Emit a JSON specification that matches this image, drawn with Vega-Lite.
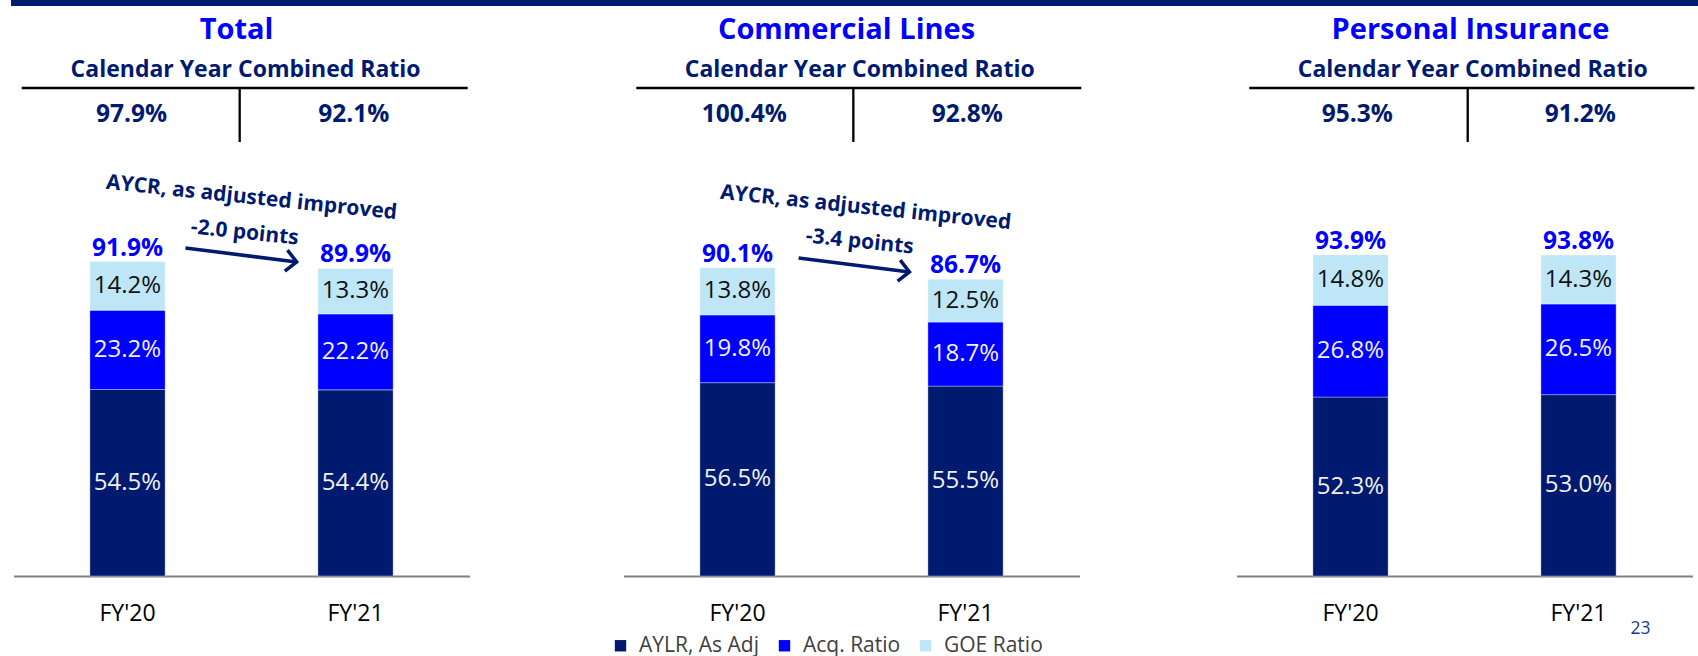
{
  "$schema": "https://vega.github.io/schema/vega-lite/v6.json",
  "padding": {"left": 11, "top": 0, "right": 0, "bottom": 0},
  "background": "white",
  "config": {"font": "Open Sans", "view": {"stroke": null}},
  "spacing": 2,
  "center": true,
  "datasets": {
    "rows": [
      {"kind": "bar", "panel": "Total", "year": "FY'20", "comp": "AYLR, As Adj", "ord": 1, "value": 0.545},
      {"kind": "bar", "panel": "Total", "year": "FY'20", "comp": "Acq. Ratio", "ord": 2, "value": 0.232},
      {"kind": "bar", "panel": "Total", "year": "FY'20", "comp": "GOE Ratio", "ord": 3, "value": 0.142},
      {"kind": "bar", "panel": "Total", "year": "FY'21", "comp": "AYLR, As Adj", "ord": 1, "value": 0.544},
      {"kind": "bar", "panel": "Total", "year": "FY'21", "comp": "Acq. Ratio", "ord": 2, "value": 0.222},
      {"kind": "bar", "panel": "Total", "year": "FY'21", "comp": "GOE Ratio", "ord": 3, "value": 0.133},
      {"kind": "bar", "panel": "Commercial Lines", "year": "FY'20", "comp": "AYLR, As Adj", "ord": 1, "value": 0.565},
      {"kind": "bar", "panel": "Commercial Lines", "year": "FY'20", "comp": "Acq. Ratio", "ord": 2, "value": 0.198},
      {"kind": "bar", "panel": "Commercial Lines", "year": "FY'20", "comp": "GOE Ratio", "ord": 3, "value": 0.138},
      {"kind": "bar", "panel": "Commercial Lines", "year": "FY'21", "comp": "AYLR, As Adj", "ord": 1, "value": 0.555},
      {"kind": "bar", "panel": "Commercial Lines", "year": "FY'21", "comp": "Acq. Ratio", "ord": 2, "value": 0.187},
      {"kind": "bar", "panel": "Commercial Lines", "year": "FY'21", "comp": "GOE Ratio", "ord": 3, "value": 0.125},
      {"kind": "bar", "panel": "Personal Insurance", "year": "FY'20", "comp": "AYLR, As Adj", "ord": 1, "value": 0.523},
      {"kind": "bar", "panel": "Personal Insurance", "year": "FY'20", "comp": "Acq. Ratio", "ord": 2, "value": 0.268},
      {"kind": "bar", "panel": "Personal Insurance", "year": "FY'20", "comp": "GOE Ratio", "ord": 3, "value": 0.148},
      {"kind": "bar", "panel": "Personal Insurance", "year": "FY'21", "comp": "AYLR, As Adj", "ord": 1, "value": 0.530},
      {"kind": "bar", "panel": "Personal Insurance", "year": "FY'21", "comp": "Acq. Ratio", "ord": 2, "value": 0.265},
      {"kind": "bar", "panel": "Personal Insurance", "year": "FY'21", "comp": "GOE Ratio", "ord": 3, "value": 0.143},

      {"kind": "title", "panel": "Total", "text": "Total", "hx": 0.489, "hy": 1.568},
      {"kind": "title", "panel": "Commercial Lines", "text": "Commercial Lines", "hx": 0.489, "hy": 1.568},
      {"kind": "title", "panel": "Personal Insurance", "text": "Personal Insurance", "hx": 0.513, "hy": 1.568},

      {"kind": "sub", "panel": "Total", "text": "Calendar Year Combined Ratio", "hx": 0.509, "hy": 1.4575},
      {"kind": "sub", "panel": "Commercial Lines", "text": "Calendar Year Combined Ratio", "hx": 0.518, "hy": 1.4575},
      {"kind": "sub", "panel": "Personal Insurance", "text": "Calendar Year Combined Ratio", "hx": 0.518, "hy": 1.4575},

      {"kind": "cy", "panel": "Total", "cy": 0.979, "hx": 0.259, "hy": 1.326},
      {"kind": "cy", "panel": "Total", "cy": 0.921, "hx": 0.746, "hy": 1.326},
      {"kind": "cy", "panel": "Commercial Lines", "cy": 1.004, "hx": 0.265, "hy": 1.326},
      {"kind": "cy", "panel": "Commercial Lines", "cy": 0.928, "hx": 0.754, "hy": 1.326},
      {"kind": "cy", "panel": "Personal Insurance", "cy": 0.953, "hx": 0.265, "hy": 1.326},
      {"kind": "cy", "panel": "Personal Insurance", "cy": 0.912, "hx": 0.754, "hy": 1.326},

      {"kind": "tline", "panel": "Total", "hx": 0.018, "hx2": 0.996, "hy": 1.4262, "hy2": 1.4262},
      {"kind": "tline", "panel": "Total", "hx": 0.496, "hx2": 0.496, "hy": 1.4262, "hy2": 1.2684},
      {"kind": "tline", "panel": "Commercial Lines", "hx": 0.028, "hx2": 1.004, "hy": 1.4262, "hy2": 1.4262},
      {"kind": "tline", "panel": "Commercial Lines", "hx": 0.504, "hx2": 0.504, "hy": 1.4262, "hy2": 1.2684},
      {"kind": "tline", "panel": "Personal Insurance", "hx": 0.028, "hx2": 1.004, "hy": 1.4262, "hy2": 1.4262},
      {"kind": "tline", "panel": "Personal Insurance", "hx": 0.507, "hx2": 0.507, "hy": 1.4262, "hy2": 1.2684},

      {"kind": "ann", "panel": "Total", "text": "AYCR, as adjusted improved", "hx": 0.522, "hy": 1.1047},
      {"kind": "ann", "panel": "Total", "text": "-2.0 points", "hx": 0.507, "hy": 1.0024},
      {"kind": "ann", "panel": "Commercial Lines", "text": "AYCR, as adjusted improved", "hx": 0.531, "hy": 1.0755},
      {"kind": "ann", "panel": "Commercial Lines", "text": "-3.4 points", "hx": 0.518, "hy": 0.9761},

      {"kind": "arrow", "panel": "Total", "hx": 0.377, "hy": 0.9586, "hx2": 0.621, "hy2": 0.9177},
      {"kind": "arrow", "panel": "Commercial Lines", "hx": 0.384, "hy": 0.9294, "hx2": 0.627, "hy2": 0.8885},

      {"kind": "page", "panel": "Personal Insurance", "text": "23", "hx": 0.886, "hy": -0.155}
    ]
  },
  "vconcat": [
    {
      "width": 1687,
      "height": 6,
      "data": {"values": [{"band": "top"}]},
      "mark": {"type": "rect", "color": "#001a70"},
      "encoding": {}
    },
    {
      "spacing": 154,
      "hconcat": [
        {
          "width": 456, "height": 568,
          "data": {"name": "rows"},
          "transform": [{"filter": "datum.panel === 'Total'"}],
          "resolve": {"scale": {"x": "independent"}},
          "layer": [
            {"transform": [{"filter": "datum.kind === 'bar'"}],
             "mark": {"type": "bar", "stroke": "#ffffff", "strokeOpacity": 0.35, "strokeWidth": 1},
             "encoding": {
               "x": {"field": "year", "type": "nominal", "scale": {"paddingInner": 0.67, "paddingOuter": 0.335},
                     "axis": {"title": null, "labelAngle": 0, "labelFontSize": 23, "labelFont": "Open Sans", "labelColor": "#000000", "labelPadding": 26, "ticks": false, "domainColor": "#808080", "domainWidth": 2, "grid": false}},
               "y": {"field": "value", "type": "quantitative", "stack": "zero", "scale": {"domain": [0, 1.66], "nice": false}, "axis": null},
               "color": {"field": "comp", "type": "nominal",
                         "scale": {"domain": ["AYLR, As Adj", "Acq. Ratio", "GOE Ratio"], "range": ["#001a70", "#0000ff", "#bfe6f7"]},
                         "legend": {"title": null, "orient": "none", "direction": "horizontal", "legendX": 599, "legendY": 635,
                                    "labelFontSize": 21, "labelFont": "Open Sans", "labelColor": "#404040", "symbolType": "square", "symbolSize": 130,
                                    "symbolStrokeWidth": 0, "columnPadding": 14, "labelOffset": 8, "padding": 0}},
               "order": {"field": "ord", "type": "quantitative"}}},
            {"transform": [{"filter": "datum.kind === 'bar'"},
                           {"stack": "value", "groupby": ["panel", "year"], "sort": [{"field": "ord", "order": "ascending"}], "as": ["v0", "v1"]},
                           {"fold": ["v0", "v1"], "as": ["edge", "pos"]},
                           {"aggregate": [{"op": "mean", "field": "pos", "as": "mid"}, {"op": "max", "field": "value", "as": "val"}], "groupby": ["panel", "year", "comp"]}],
             "mark": {"type": "text", "fontSize": 24, "baseline": "middle", "align": "center"},
             "encoding": {
               "x": {"field": "year", "type": "nominal", "scale": {"paddingInner": 0.67, "paddingOuter": 0.335}, "axis": null},
               "y": {"field": "mid", "type": "quantitative"},
               "text": {"field": "val", "type": "quantitative", "format": ".1%"},
               "color": {"condition": {"test": "datum.comp === 'GOE Ratio'", "value": "#111111"}, "value": "#f0f0f0"}}},
            {"transform": [{"filter": "datum.kind === 'bar'"}],
             "mark": {"type": "text", "fontSize": 24.5, "fontWeight": "bold", "color": "#0000ff", "baseline": "alphabetic", "align": "center", "dy": -6},
             "encoding": {
               "x": {"field": "year", "type": "nominal", "scale": {"paddingInner": 0.67, "paddingOuter": 0.335}, "axis": null},
               "y": {"aggregate": "sum", "field": "value", "type": "quantitative"},
               "text": {"aggregate": "sum", "field": "value", "type": "quantitative", "format": ".1%"}}},
            {"transform": [{"filter": "datum.kind === 'title'"}],
             "mark": {"type": "text", "fontSize": 29, "fontWeight": "bold", "color": "#0000ff", "baseline": "alphabetic", "align": "center"},
             "encoding": {"x": {"field": "hx", "type": "quantitative", "scale": {"domain": [0, 1], "nice": false}, "axis": null},
                          "y": {"field": "hy", "type": "quantitative"}, "text": {"field": "text"}}},
            {"transform": [{"filter": "datum.kind === 'sub'"}],
             "mark": {"type": "text", "fontSize": 23, "fontWeight": "bold", "color": "#001a70", "baseline": "alphabetic", "align": "center"},
             "encoding": {"x": {"field": "hx", "type": "quantitative", "scale": {"domain": [0, 1], "nice": false}, "axis": null},
                          "y": {"field": "hy", "type": "quantitative"}, "text": {"field": "text"}}},
            {"transform": [{"filter": "datum.kind === 'cy'"}],
             "mark": {"type": "text", "fontSize": 24.5, "fontWeight": "bold", "color": "#001a70", "baseline": "alphabetic", "align": "center"},
             "encoding": {"x": {"field": "hx", "type": "quantitative", "scale": {"domain": [0, 1], "nice": false}, "axis": null},
                          "y": {"field": "hy", "type": "quantitative"}, "text": {"field": "cy", "type": "quantitative", "format": ".1%"}}},
            {"transform": [{"filter": "datum.kind === 'tline'"}],
             "mark": {"type": "rule", "color": "#000000", "strokeWidth": 2.3},
             "encoding": {"x": {"field": "hx", "type": "quantitative", "scale": {"domain": [0, 1], "nice": false}, "axis": null},
                          "x2": {"field": "hx2"}, "y": {"field": "hy", "type": "quantitative"}, "y2": {"field": "hy2"}}},
            {"transform": [{"filter": "datum.kind === 'ann'"}],
             "mark": {"type": "text", "fontSize": 21, "fontWeight": "bold", "color": "#001a70", "baseline": "middle", "align": "center", "angle": 6},
             "encoding": {"x": {"field": "hx", "type": "quantitative", "scale": {"domain": [0, 1], "nice": false}, "axis": null},
                          "y": {"field": "hy", "type": "quantitative"}, "text": {"field": "text"}}},
            {"transform": [{"filter": "datum.kind === 'arrow'"}],
             "mark": {"type": "rule", "color": "#001a70", "strokeWidth": 3.5},
             "encoding": {"x": {"field": "hx", "type": "quantitative", "scale": {"domain": [0, 1], "nice": false}, "axis": null},
                          "x2": {"field": "hx2"}, "y": {"field": "hy", "type": "quantitative"}, "y2": {"field": "hy2"}}},
            {"transform": [{"filter": "datum.kind === 'arrow'"}],
             "mark": {"type": "point", "shape": "M-1,-1L0,0L-1,1", "filled": false, "stroke": "#001a70", "strokeWidth": 3.5, "size": 450, "angle": 7.2, "opacity": 1, "strokeJoin": "miter"},
             "encoding": {"x": {"field": "hx2", "type": "quantitative", "scale": {"domain": [0, 1], "nice": false}, "axis": null},
                          "y": {"field": "hy2", "type": "quantitative"}}}
          ]
        },
        {
          "width": 456, "height": 568,
          "data": {"name": "rows"},
          "transform": [{"filter": "datum.panel === 'Commercial Lines'"}],
          "resolve": {"scale": {"x": "independent"}},
          "layer": [
            {"transform": [{"filter": "datum.kind === 'bar'"}],
             "mark": {"type": "bar", "stroke": "#ffffff", "strokeOpacity": 0.35, "strokeWidth": 1},
             "encoding": {
               "x": {"field": "year", "type": "nominal", "scale": {"paddingInner": 0.67, "paddingOuter": 0.335},
                     "axis": {"title": null, "labelAngle": 0, "labelFontSize": 23, "labelFont": "Open Sans", "labelColor": "#000000", "labelPadding": 26, "ticks": false, "domainColor": "#808080", "domainWidth": 2, "grid": false}},
               "y": {"field": "value", "type": "quantitative", "stack": "zero", "scale": {"domain": [0, 1.66], "nice": false}, "axis": null},
               "color": {"field": "comp", "type": "nominal",
                         "scale": {"domain": ["AYLR, As Adj", "Acq. Ratio", "GOE Ratio"], "range": ["#001a70", "#0000ff", "#bfe6f7"]},
                         "legend": {"title": null, "orient": "none", "direction": "horizontal", "legendX": 599, "legendY": 635,
                                    "labelFontSize": 21, "labelFont": "Open Sans", "labelColor": "#404040", "symbolType": "square", "symbolSize": 130,
                                    "symbolStrokeWidth": 0, "columnPadding": 14, "labelOffset": 8, "padding": 0}},
               "order": {"field": "ord", "type": "quantitative"}}},
            {"transform": [{"filter": "datum.kind === 'bar'"},
                           {"stack": "value", "groupby": ["panel", "year"], "sort": [{"field": "ord", "order": "ascending"}], "as": ["v0", "v1"]},
                           {"fold": ["v0", "v1"], "as": ["edge", "pos"]},
                           {"aggregate": [{"op": "mean", "field": "pos", "as": "mid"}, {"op": "max", "field": "value", "as": "val"}], "groupby": ["panel", "year", "comp"]}],
             "mark": {"type": "text", "fontSize": 24, "baseline": "middle", "align": "center"},
             "encoding": {
               "x": {"field": "year", "type": "nominal", "scale": {"paddingInner": 0.67, "paddingOuter": 0.335}, "axis": null},
               "y": {"field": "mid", "type": "quantitative"},
               "text": {"field": "val", "type": "quantitative", "format": ".1%"},
               "color": {"condition": {"test": "datum.comp === 'GOE Ratio'", "value": "#111111"}, "value": "#f0f0f0"}}},
            {"transform": [{"filter": "datum.kind === 'bar'"}],
             "mark": {"type": "text", "fontSize": 24.5, "fontWeight": "bold", "color": "#0000ff", "baseline": "alphabetic", "align": "center", "dy": -6},
             "encoding": {
               "x": {"field": "year", "type": "nominal", "scale": {"paddingInner": 0.67, "paddingOuter": 0.335}, "axis": null},
               "y": {"aggregate": "sum", "field": "value", "type": "quantitative"},
               "text": {"aggregate": "sum", "field": "value", "type": "quantitative", "format": ".1%"}}},
            {"transform": [{"filter": "datum.kind === 'title'"}],
             "mark": {"type": "text", "fontSize": 29, "fontWeight": "bold", "color": "#0000ff", "baseline": "alphabetic", "align": "center"},
             "encoding": {"x": {"field": "hx", "type": "quantitative", "scale": {"domain": [0, 1], "nice": false}, "axis": null},
                          "y": {"field": "hy", "type": "quantitative"}, "text": {"field": "text"}}},
            {"transform": [{"filter": "datum.kind === 'sub'"}],
             "mark": {"type": "text", "fontSize": 23, "fontWeight": "bold", "color": "#001a70", "baseline": "alphabetic", "align": "center"},
             "encoding": {"x": {"field": "hx", "type": "quantitative", "scale": {"domain": [0, 1], "nice": false}, "axis": null},
                          "y": {"field": "hy", "type": "quantitative"}, "text": {"field": "text"}}},
            {"transform": [{"filter": "datum.kind === 'cy'"}],
             "mark": {"type": "text", "fontSize": 24.5, "fontWeight": "bold", "color": "#001a70", "baseline": "alphabetic", "align": "center"},
             "encoding": {"x": {"field": "hx", "type": "quantitative", "scale": {"domain": [0, 1], "nice": false}, "axis": null},
                          "y": {"field": "hy", "type": "quantitative"}, "text": {"field": "cy", "type": "quantitative", "format": ".1%"}}},
            {"transform": [{"filter": "datum.kind === 'tline'"}],
             "mark": {"type": "rule", "color": "#000000", "strokeWidth": 2.3},
             "encoding": {"x": {"field": "hx", "type": "quantitative", "scale": {"domain": [0, 1], "nice": false}, "axis": null},
                          "x2": {"field": "hx2"}, "y": {"field": "hy", "type": "quantitative"}, "y2": {"field": "hy2"}}},
            {"transform": [{"filter": "datum.kind === 'ann'"}],
             "mark": {"type": "text", "fontSize": 21, "fontWeight": "bold", "color": "#001a70", "baseline": "middle", "align": "center", "angle": 6},
             "encoding": {"x": {"field": "hx", "type": "quantitative", "scale": {"domain": [0, 1], "nice": false}, "axis": null},
                          "y": {"field": "hy", "type": "quantitative"}, "text": {"field": "text"}}},
            {"transform": [{"filter": "datum.kind === 'arrow'"}],
             "mark": {"type": "rule", "color": "#001a70", "strokeWidth": 3.5},
             "encoding": {"x": {"field": "hx", "type": "quantitative", "scale": {"domain": [0, 1], "nice": false}, "axis": null},
                          "x2": {"field": "hx2"}, "y": {"field": "hy", "type": "quantitative"}, "y2": {"field": "hy2"}}},
            {"transform": [{"filter": "datum.kind === 'arrow'"}],
             "mark": {"type": "point", "shape": "M-1,-1L0,0L-1,1", "filled": false, "stroke": "#001a70", "strokeWidth": 3.5, "size": 450, "angle": 7.2, "opacity": 1, "strokeJoin": "miter"},
             "encoding": {"x": {"field": "hx2", "type": "quantitative", "scale": {"domain": [0, 1], "nice": false}, "axis": null},
                          "y": {"field": "hy2", "type": "quantitative"}}}
          ]
        },
        {
          "width": 456, "height": 568,
          "data": {"name": "rows"},
          "transform": [{"filter": "datum.panel === 'Personal Insurance'"}],
          "resolve": {"scale": {"x": "independent"}},
          "layer": [
            {"transform": [{"filter": "datum.kind === 'bar'"}],
             "mark": {"type": "bar", "stroke": "#ffffff", "strokeOpacity": 0.35, "strokeWidth": 1},
             "encoding": {
               "x": {"field": "year", "type": "nominal", "scale": {"paddingInner": 0.67, "paddingOuter": 0.335},
                     "axis": {"title": null, "labelAngle": 0, "labelFontSize": 23, "labelFont": "Open Sans", "labelColor": "#000000", "labelPadding": 26, "ticks": false, "domainColor": "#808080", "domainWidth": 2, "grid": false}},
               "y": {"field": "value", "type": "quantitative", "stack": "zero", "scale": {"domain": [0, 1.66], "nice": false}, "axis": null},
               "color": {"field": "comp", "type": "nominal",
                         "scale": {"domain": ["AYLR, As Adj", "Acq. Ratio", "GOE Ratio"], "range": ["#001a70", "#0000ff", "#bfe6f7"]},
                         "legend": {"title": null, "orient": "none", "direction": "horizontal", "legendX": 599, "legendY": 635,
                                    "labelFontSize": 21, "labelFont": "Open Sans", "labelColor": "#404040", "symbolType": "square", "symbolSize": 130,
                                    "symbolStrokeWidth": 0, "columnPadding": 14, "labelOffset": 8, "padding": 0}},
               "order": {"field": "ord", "type": "quantitative"}}},
            {"transform": [{"filter": "datum.kind === 'bar'"},
                           {"stack": "value", "groupby": ["panel", "year"], "sort": [{"field": "ord", "order": "ascending"}], "as": ["v0", "v1"]},
                           {"fold": ["v0", "v1"], "as": ["edge", "pos"]},
                           {"aggregate": [{"op": "mean", "field": "pos", "as": "mid"}, {"op": "max", "field": "value", "as": "val"}], "groupby": ["panel", "year", "comp"]}],
             "mark": {"type": "text", "fontSize": 24, "baseline": "middle", "align": "center"},
             "encoding": {
               "x": {"field": "year", "type": "nominal", "scale": {"paddingInner": 0.67, "paddingOuter": 0.335}, "axis": null},
               "y": {"field": "mid", "type": "quantitative"},
               "text": {"field": "val", "type": "quantitative", "format": ".1%"},
               "color": {"condition": {"test": "datum.comp === 'GOE Ratio'", "value": "#111111"}, "value": "#f0f0f0"}}},
            {"transform": [{"filter": "datum.kind === 'bar'"}],
             "mark": {"type": "text", "fontSize": 24.5, "fontWeight": "bold", "color": "#0000ff", "baseline": "alphabetic", "align": "center", "dy": -6},
             "encoding": {
               "x": {"field": "year", "type": "nominal", "scale": {"paddingInner": 0.67, "paddingOuter": 0.335}, "axis": null},
               "y": {"aggregate": "sum", "field": "value", "type": "quantitative"},
               "text": {"aggregate": "sum", "field": "value", "type": "quantitative", "format": ".1%"}}},
            {"transform": [{"filter": "datum.kind === 'title'"}],
             "mark": {"type": "text", "fontSize": 29, "fontWeight": "bold", "color": "#0000ff", "baseline": "alphabetic", "align": "center"},
             "encoding": {"x": {"field": "hx", "type": "quantitative", "scale": {"domain": [0, 1], "nice": false}, "axis": null},
                          "y": {"field": "hy", "type": "quantitative"}, "text": {"field": "text"}}},
            {"transform": [{"filter": "datum.kind === 'sub'"}],
             "mark": {"type": "text", "fontSize": 23, "fontWeight": "bold", "color": "#001a70", "baseline": "alphabetic", "align": "center"},
             "encoding": {"x": {"field": "hx", "type": "quantitative", "scale": {"domain": [0, 1], "nice": false}, "axis": null},
                          "y": {"field": "hy", "type": "quantitative"}, "text": {"field": "text"}}},
            {"transform": [{"filter": "datum.kind === 'cy'"}],
             "mark": {"type": "text", "fontSize": 24.5, "fontWeight": "bold", "color": "#001a70", "baseline": "alphabetic", "align": "center"},
             "encoding": {"x": {"field": "hx", "type": "quantitative", "scale": {"domain": [0, 1], "nice": false}, "axis": null},
                          "y": {"field": "hy", "type": "quantitative"}, "text": {"field": "cy", "type": "quantitative", "format": ".1%"}}},
            {"transform": [{"filter": "datum.kind === 'tline'"}],
             "mark": {"type": "rule", "color": "#000000", "strokeWidth": 2.3},
             "encoding": {"x": {"field": "hx", "type": "quantitative", "scale": {"domain": [0, 1], "nice": false}, "axis": null},
                          "x2": {"field": "hx2"}, "y": {"field": "hy", "type": "quantitative"}, "y2": {"field": "hy2"}}},
            {"transform": [{"filter": "datum.kind === 'page'"}],
             "mark": {"type": "text", "fontSize": 17.5, "color": "#1f3a93", "baseline": "middle", "align": "center"},
             "encoding": {"x": {"field": "hx", "type": "quantitative", "scale": {"domain": [0, 1], "nice": false}, "axis": null},
                          "y": {"field": "hy", "type": "quantitative"}, "text": {"field": "text"}}}
          ]
        }
      ]
    }
  ]
}
